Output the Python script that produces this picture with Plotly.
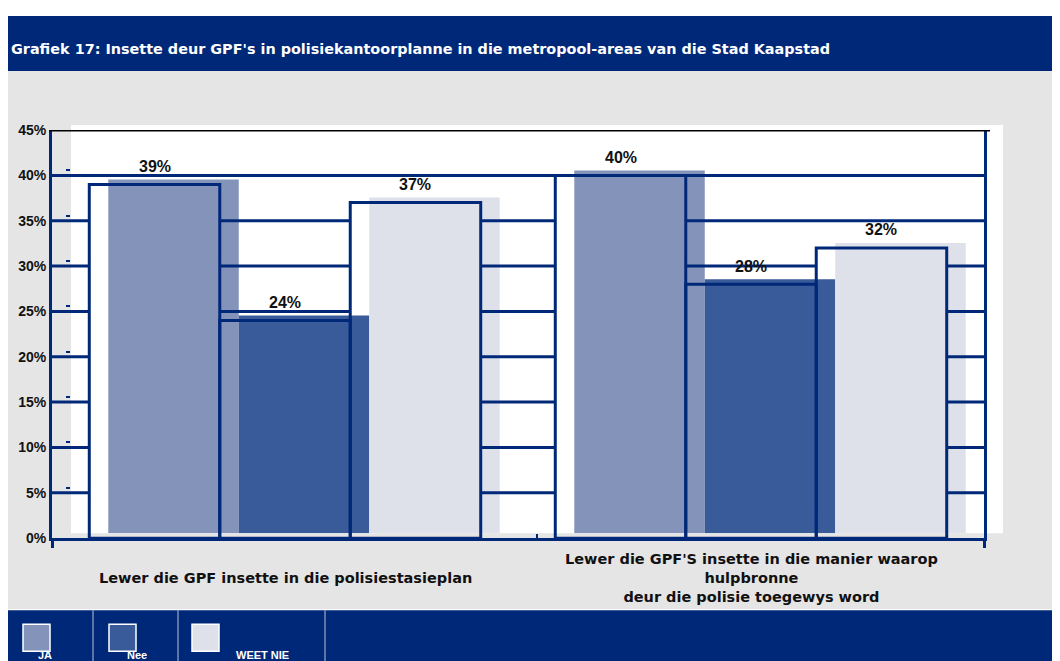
import plotly.graph_objects as go

# ---------------- data ----------------
categories = [
    "Lewer die GPF insette in die polisiestasieplan",
    "Lewer die GPF'S insette in die manier waarop<br>hulpbronne<br>deur die polisie toegewys word",
]
series_names = ["JA", "Nee", "WEET NIE"]
ja = [39, 40]
nee = [24, 28]
weet_nie = [37, 32]
tick_values = [0, 5, 10, 15, 20, 25, 30, 35, 40, 45]
tick_labels = ["0%", "5%", "10%", "15%", "20%", "25%", "30%", "35%", "40%", "45%"]
title_text = "Grafiek 17: Insette deur GPF's in polisiekantoorplanne in die metropool-areas van die Stad Kaapstad"

# ---------------- style ----------------
series_values = [ja, nee, weet_nie]
colors = ["#8393ba", "#3a5b9a", "#dfe1ea"]
NAVY = "#002878"
GRAY = "#e5e5e5"
FONT = "Liberation Sans, Arial, sans-serif"
WIDE = "DejaVu Sans, Verdana, sans-serif"
W, H = 1052, 661
OX, OY, SY = 8, 16, 0.9755  # how the page places the figure in the screenshot
BARGAP = 0.16


def px(x):
    return (x - OX) / W


def py(y):
    return 1 - ((y - OY) / SY) / H


x_idx = list(range(len(categories)))
nser = len(series_names)
bw = (1 - BARGAP) / nser

fig = go.Figure()

# background layer (xy): coloured bars, slightly offset
for name, vals, col in zip(series_names, series_values, colors):
    fig.add_trace(go.Bar(
        x=x_idx, y=vals, name=name, xaxis="x", yaxis="y",
        marker=dict(color=col, line=dict(width=0)),
        showlegend=False, hoverinfo="skip",
    ))

# foreground layer (x2y2): grid segments that stop at outlined bars
gx, gy = [], []
for level in tick_values[1:-1]:
    cuts = []
    for c in x_idx:
        for j, vals in enumerate(series_values):
            if vals[c] > level:
                left = c - (1 - BARGAP) / 2 + j * bw
                cuts.append((left, left + bw))
    cuts.sort()
    start = -0.5
    for a, b in cuts:
        if a > start:
            gx += [start, a, None]
            gy += [level, level, None]
        start = max(start, b)
    if start < 1.5:
        gx += [start, 1.5, None]
        gy += [level, level, None]

fig.add_trace(go.Scatter(
    x=gx, y=gy, mode="lines", xaxis="x2", yaxis="y2",
    line=dict(color=NAVY, width=3), showlegend=False, hoverinfo="skip",
))

for name, vals in zip(series_names, series_values):
    fig.add_trace(go.Bar(
        x=x_idx, y=vals, name=name, xaxis="x2", yaxis="y2",
        marker=dict(color="rgba(0,0,0,0)", line=dict(color=NAVY, width=3)),
        showlegend=False, hoverinfo="skip",
    ))

annotations = []
# value labels
for j, vals in enumerate(series_values):
    for c in x_idx:
        cx = c - (1 - BARGAP) / 2 + (j + 0.5) * bw
        annotations.append(dict(
            x=cx, y=vals[c], xref="x2", yref="y2", text=f"{vals[c]}%",
            showarrow=False, yanchor="middle", yshift=18,
            font=dict(family=FONT, size=16, color="#111111", weight="bold"),
        ))
# category labels
for c, lab in zip(x_idx, categories):
    annotations.append(dict(
        x=c, y=py(578), xref="x2", yref="paper", text=lab, showarrow=False,
        xanchor="center", yanchor="middle",
        font=dict(family=WIDE, size=14.5, color="#111111", weight="bold"),
    ))
# title
annotations.append(dict(
    x=px(9), y=py(49), xref="paper", yref="paper", text=title_text,
    showarrow=False, xanchor="left", yanchor="middle",
    font=dict(family=WIDE, size=14.4, color="white", weight="bold"),
))

shapes = [
    dict(type="rect", xref="paper", yref="paper", x0=0, x1=1, y0=py(71), y1=1,
         fillcolor=NAVY, line=dict(width=0), layer="below"),
    dict(type="rect", xref="paper", yref="paper", x0=0, x1=1, y0=py(609), y1=py(71),
         fillcolor=GRAY, line=dict(width=0), layer="below"),
    dict(type="rect", xref="paper", yref="paper", x0=0, x1=1, y0=0, y1=py(610),
         fillcolor=NAVY, line=dict(width=0), layer="below"),
    dict(type="rect", xref="x domain", yref="y domain", x0=0, x1=1, y0=0, y1=1,
         fillcolor="white", line=dict(width=0), layer="below"),
    dict(type="line", xref="paper", yref="y2", x0=px(49), x1=px(990), y0=45, y1=45,
         line=dict(color="black", width=3), layer="above"),
]

# legend (custom, in the bottom band)
legend_boxes = [23, 109, 192]
legend_text_x = [45, 137, 262]
for name, col, bx, tx in zip(series_names, colors, legend_boxes, legend_text_x):
    shapes.append(dict(type="rect", xref="paper", yref="paper",
                       x0=px(bx), x1=px(bx + 27), y0=py(651), y1=py(624),
                       fillcolor=col, line=dict(color="white", width=1.5), layer="above"))
    annotations.append(dict(
        x=px(tx), y=py(655), xref="paper", yref="paper", text=name, showarrow=False,
        xanchor="center", yanchor="middle",
        font=dict(family=FONT, size=11, color="white", weight="bold"),
    ))
for sx in [93, 178, 325]:
    shapes.append(dict(type="line", xref="paper", yref="paper", x0=px(sx), x1=px(sx),
                       y0=0, y1=py(610), line=dict(color="#b9c1d8", width=1), layer="above"))

fig.update_layout(
    width=W, height=H,
    margin=dict(l=0, r=0, t=0, b=0),
    paper_bgcolor="white",
    plot_bgcolor="rgba(0,0,0,0)",
    barmode="group", bargap=BARGAP, bargroupgap=0,
    showlegend=False,
    xaxis=dict(domain=[px(71), px(1003)], range=[-0.5, 1.5], anchor="y",
               showgrid=False, zeroline=False, showline=False,
               ticks="outside", tickvals=[0.5], ticklen=5, tickwidth=2, tickcolor=NAVY,
               showticklabels=False, fixedrange=True),
    yaxis=dict(domain=[py(533), py(125)], range=[0, 45], anchor="x",
               showgrid=False, zeroline=False, showline=False,
               ticks="outside", tickvals=tick_values[1:-1], ticklen=4, tickwidth=2,
               tickcolor=NAVY, showticklabels=False, fixedrange=True),
    xaxis2=dict(domain=[px(52), px(984)], range=[-0.5, 1.5], anchor="y2",
                showgrid=False, zeroline=False, showline=True, linecolor=NAVY, linewidth=3,
                ticks="outside", tickvals=[-0.5, 1.5], ticklen=7, tickwidth=3, tickcolor=NAVY,
                showticklabels=False, fixedrange=True),
    yaxis2=dict(domain=[py(538), py(130)], range=[0, 45], anchor="x2",
                showgrid=False, zeroline=False, showline=True, mirror=True,
                linecolor=NAVY, linewidth=3,
                tickvals=tick_values, ticktext=tick_labels, ticks="",
                tickfont=dict(family=FONT, size=14, color="#111111", weight="bold"),
                fixedrange=True),
    shapes=shapes,
    annotations=annotations,
)

fig.write_html("out.html")
